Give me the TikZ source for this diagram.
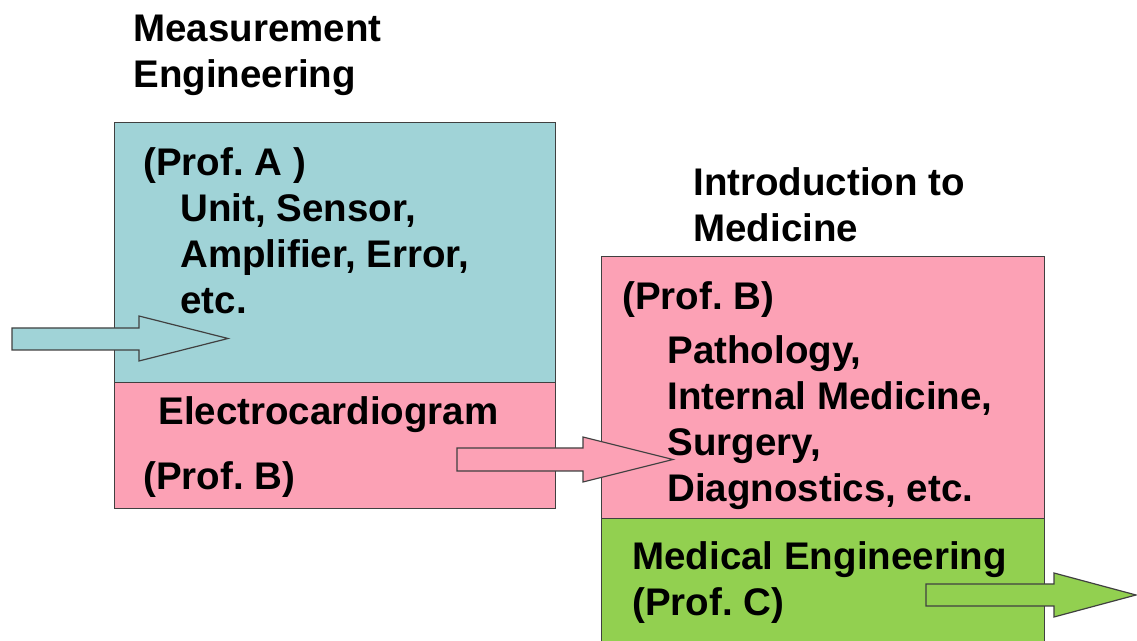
\documentclass[tikz,border=0pt]{standalone}
\usepackage{fontspec}
\setmainfont{Liberation Sans}
\usepackage{xcolor}
\usetikzlibrary{positioning}
\definecolor{mblue}{RGB}{160,211,215}
\definecolor{mpink}{RGB}{252,161,181}
\definecolor{mgreen}{RGB}{146,208,80}
\definecolor{mline}{RGB}{64,64,64}

\begin{document}
\begin{tikzpicture}[x=0.5pt, y=-0.5pt,
  box/.style={draw=mline, line width=0.6pt, inner sep=0pt, anchor=north west},
  lbl/.style={inner sep=0pt, anchor=base west, align=left,
    font=\fontsize{19.25}{23}\selectfont\bfseries},
  blockarrow/.style={draw=mline, line width=0.6pt, line join=miter}]
\useasboundingbox (0,0) rectangle (1137,641);

% measurement engineering (base = last line)
\node[box, fill=mblue, minimum width=441*0.5pt, minimum height=260*0.5pt] (meas) at (114,122) {};
\node[box, fill=mpink, minimum width=441*0.5pt, minimum height=126*0.5pt] (ecg) at (114,382) {};
\node[lbl] (measT) at (133,88) {Measurement\\Engineering};
\node[lbl] (profA) at (143,176) {(Prof.~A )};
\node[lbl] (measC) at (180,314) {Unit, Sensor,\\Amplifier, Error,\\etc.};
\node[lbl] (ecgT) at (158,425) {Electrocardiogram};
\node[lbl] (profB1) at (143,490) {(Prof.~B)};

% introduction to medicine
\node[box, fill=mpink, minimum width=443*0.5pt, minimum height=262*0.5pt] (med) at (601,256) {};
\node[box, fill=mgreen, minimum width=443*0.5pt, minimum height=140*0.5pt] (mede) at (601,518) {};
\node[lbl] (medT) at (693,242) {Introduction to\\Medicine};
\node[lbl] (profB2) at (622,310) {(Prof.~B)};
\node[lbl] (medC) at (667,502) {Pathology,\\Internal Medicine,\\Surgery,\\Diagnostics, etc.};
\node[lbl] (medeT) at (632,616) {Medical Engineering\\(Prof.~C)};

% block arrows
\draw[blockarrow, fill=mblue] (12,328) -- (139,328) -- (139,316) -- (228,338.5)
  -- (139,361) -- (139,350) -- (12,350) -- cycle;
\draw[blockarrow, fill=mpink] (457,448) -- (583,448) -- (583,437) -- (673,459.5)
  -- (583,482) -- (583,471) -- (457,471) -- cycle;
\draw[blockarrow, fill=mgreen] (926,584) -- (1054,584) -- (1054,573) -- (1136,595)
  -- (1054,617) -- (1054,606) -- (926,606) -- cycle;
\end{tikzpicture}
\end{document}
